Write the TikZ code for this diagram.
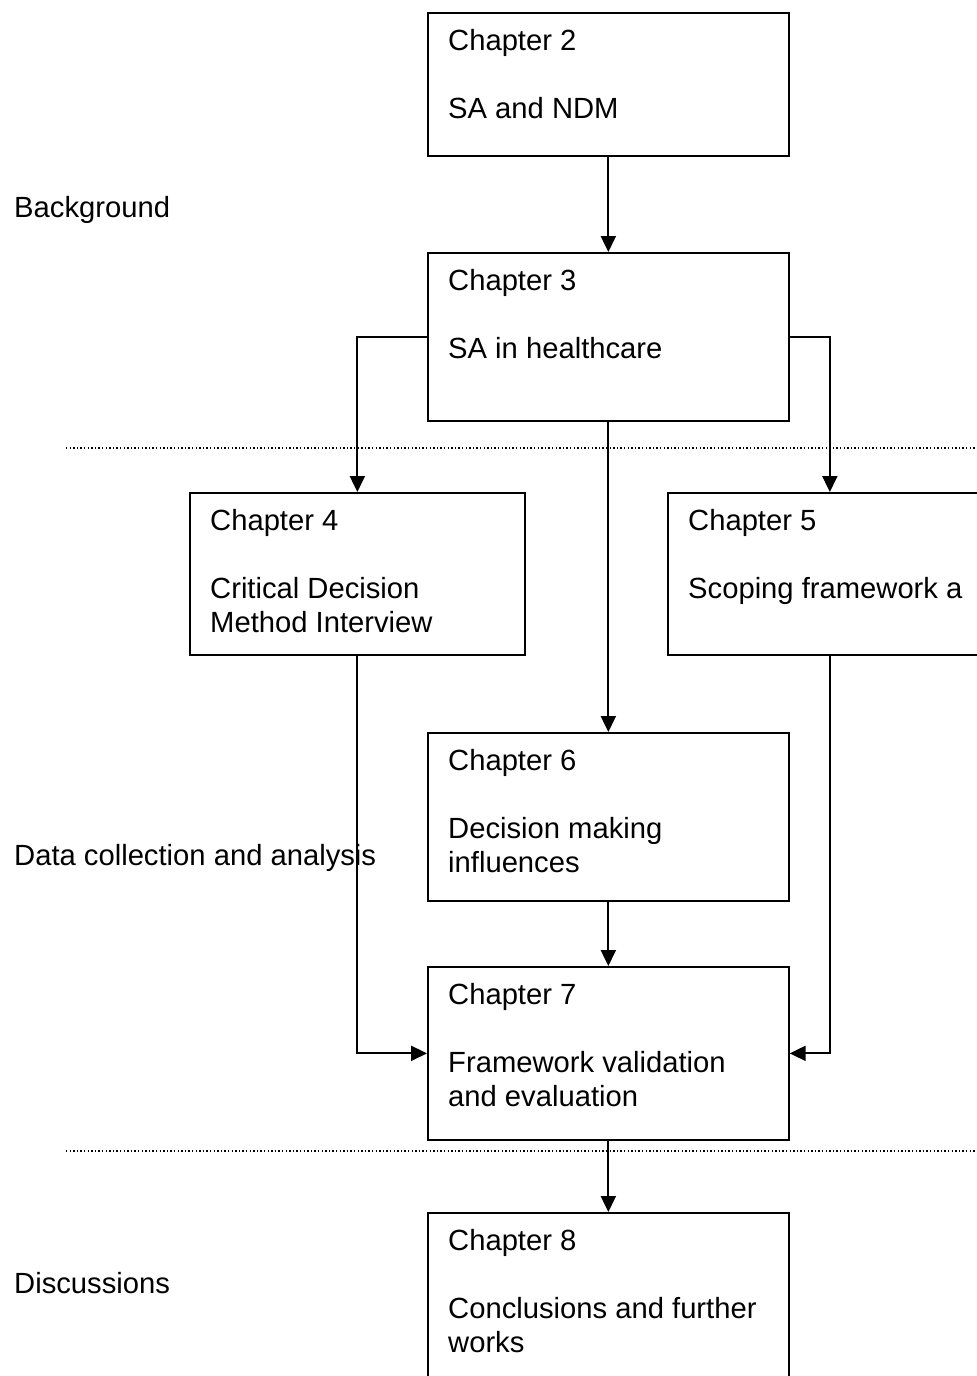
\documentclass[tikz,border=0pt]{standalone}
\usepackage{fontspec}
\setmainfont{Liberation Sans}
\usetikzlibrary{arrows.meta}
% fixed height at the start of each box text, so the first baseline sits at a known depth
\newcommand\chapstrut{\rule{0pt}{25pt}}
\begin{document}
\begin{tikzpicture}[x=1pt,y=-1pt,
  chapbox/.style={draw, rectangle, line width=1.7pt, inner sep=0pt, anchor=north west},
  boxtext/.style={anchor=north west, inner sep=0pt, align=left,
                  font=\fontsize{29.2}{34}\selectfont},
  sidelabel/.style={anchor=base west, inner sep=0pt, font=\fontsize{29.2}{34}\selectfont},
  flow/.style={line width=2.2pt, -{Triangle[length=16pt,width=15pt]}},
  divider/.style={line width=1.2pt, dash pattern=on 1.4pt off 2.2pt}]
\useasboundingbox (0,0) rectangle (977,1376);
\clip (0,0) rectangle (977,1376);

% chapter boxes
\node[chapbox, minimum width=361pt, minimum height=143pt] (c2) at (427,12)   {};
\node[chapbox, minimum width=361pt, minimum height=168pt] (c3) at (427,252)  {};
\node[chapbox, minimum width=335pt, minimum height=162pt] (c4) at (189,492)  {};
\node[chapbox, minimum width=324pt, minimum height=162pt] (c5) at (667,492)  {};
\node[chapbox, minimum width=361pt, minimum height=168pt] (c6) at (427,732)  {};
\node[chapbox, minimum width=361pt, minimum height=173pt] (c7) at (427,966)  {};
\node[chapbox, minimum width=361pt, minimum height=190pt] (c8) at (427,1212) {};

% box texts
\node[boxtext] (c2t) at ([shift={(21,13)}]c2.north west) {\chapstrut Chapter 2\\[34pt]SA and NDM};
\node[boxtext] (c3t) at ([shift={(21,13)}]c3.north west) {\chapstrut Chapter 3\\[34pt]SA in healthcare};
\node[boxtext] (c4t) at ([shift={(21,13)}]c4.north west) {\chapstrut Chapter 4\\[34pt]Critical Decision\\Method Interview};
\node[boxtext] (c5t) at ([shift={(21,13)}]c5.north west) {\chapstrut Chapter 5\\[34pt]Scoping framework a};
\node[boxtext] (c6t) at ([shift={(21,13)}]c6.north west) {\chapstrut Chapter 6\\[34pt]Decision making\\influences};
\node[boxtext] (c7t) at ([shift={(21,13)}]c7.north west) {\chapstrut Chapter 7\\[34pt]Framework validation\\and evaluation};
\node[boxtext] (c8t) at ([shift={(21,13)}]c8.north west) {\chapstrut Chapter 8\\[34pt]Conclusions and further\\works};

% section labels
\node[sidelabel] (bg)  at (14,217)  {Background};
\node[sidelabel] (dca) at (14,865)  {Data collection and analysis};
\node[sidelabel] (dis) at (14,1293) {Discussions};

% section dividers
\coordinate (d1a) at (66,448);   \coordinate (d1b) at (977,448);
\coordinate (d2a) at (66,1151);  \coordinate (d2b) at (977,1151);
\draw[divider] (d1a) -- (d1b);
\draw[divider] (d2a) -- (d2b);

% flow between chapters
\draw[flow] (c2.south) -- (c3.north);
\draw[flow] (c3.west) -| (c4.north);
\draw[flow] (c3.east) -| (c5.north);
\draw[flow] (c3.south) -- (c6.north);
\draw[flow] (c4.south) |- (c7.west);
\draw[flow] (c5.south) |- (c7.east);
\draw[flow] (c6.south) -- (c7.north);
\draw[flow] (c7.south) -- (c8.north);
\end{tikzpicture}
\end{document}
